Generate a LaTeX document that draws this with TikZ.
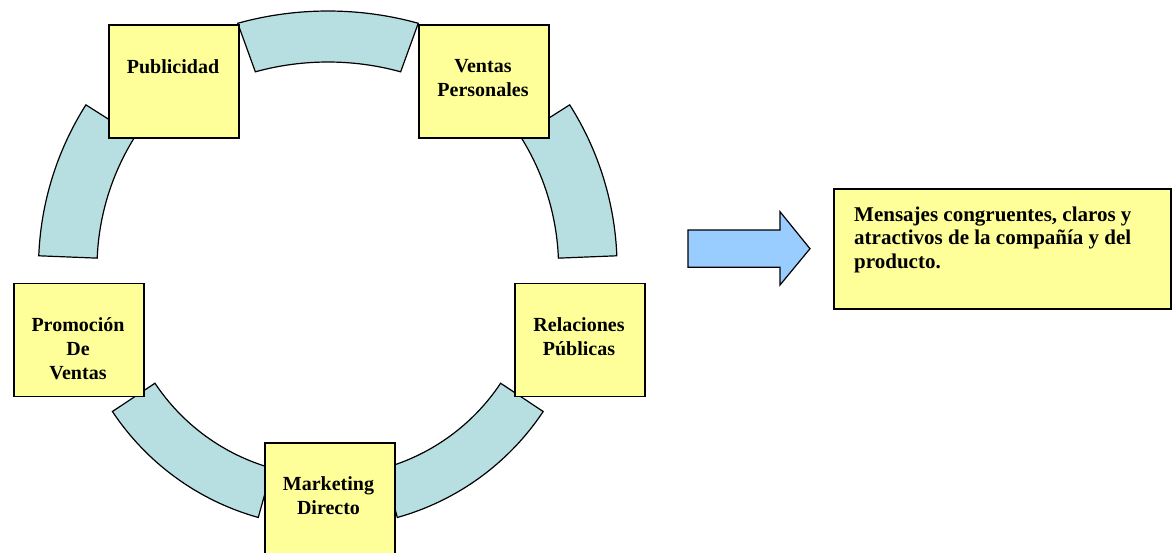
\documentclass[tikz,border=0pt]{standalone}
\usepackage{fontspec}
\setmainfont{Liberation Serif}
\usetikzlibrary{calc}
\definecolor{boxyellow}{HTML}{FFFF99}
\definecolor{ringblue}{HTML}{B7DEE0}
\definecolor{arrowblue}{HTML}{99CCFF}
% #1 centre, #2 start angle, #3 end angle, #4/#5 outer radii, #6/#7 inner radii
\newcommand\ringseg[7]{%
  \draw[segsty] ($#1+(#2:#4 and #5)$)
    arc[start angle=#2,end angle=#3,x radius=#4,y radius=#5]
    -- ($#1+(#3:#6 and #7)$)
    arc[start angle=#3,end angle=#2,x radius=#6,y radius=#7] -- cycle;}
\begin{document}
\begin{tikzpicture}[x=1pt,y=1pt,
  segsty/.style={draw=black,line width=1.2pt,fill=ringblue,line join=miter},
  cbox/.style={draw=black,line width=1.6pt,fill=boxyellow,minimum width=130pt,
    minimum height=113pt,inner sep=0pt,anchor=north west},
  lbl/.style={anchor=base,inner sep=0pt,font=\fontsize{20}{24}\selectfont\bfseries},
  rbox/.style={draw=black,line width=1.6pt,fill=boxyellow,minimum width=337pt,
    minimum height=120pt,inner sep=0pt,anchor=north west},
  rlbl/.style={anchor=base west,inner sep=0pt,font=\fontsize{21}{23.5}\selectfont\bfseries},
  bigarrow/.style={draw=black,line width=1.2pt,fill=arrowblue,line join=miter}]
\clip (0,0) rectangle (1172,-552);
% ring segments
\ringseg{(328,-266)}{107.85}{72.15}{294.5}{255}{237}{204}
\ringseg{(343,-268)}{147.6}{177.7}{304.5}{304.5}{246}{246}
\ringseg{(312.6,-268)}{2.3}{32.4}{304.5}{304.5}{246}{246}
\ringseg{(327.8,-268.4)}{213.6}{254.4}{258.6}{258.6}{207.5}{207.5}
\ringseg{(327.8,-268.4)}{285.6}{326.4}{258.6}{258.6}{207.5}{207.5}
% boxes
\node[cbox] (pub) at (108,-24) {};
\node[cbox] (ven) at (418,-24) {};
\node[cbox] (pro) at (13,-282.5) {};
\node[cbox] (rel) at (514,-282.5) {};
\node[cbox] (mar) at (264,-442) {};
\node[lbl] (pubt) at (173,-73.5) {\parbox[t]{130pt}{\centering Publicidad}};
\node[lbl] (vent) at (483,-72.5) {\parbox[t]{130pt}{\centering Ventas\\Personales}};
\node[lbl] (prot) at (78,-331) {\parbox[t]{130pt}{\centering Promoción\\De\\Ventas}};
\node[lbl] (relt) at (579,-331) {\parbox[t]{130pt}{\centering Relaciones\\Públicas}};
\node[lbl] (mart) at (328.5,-490) {\parbox[t]{130pt}{\centering Marketing\\Directo}};
% arrow
\draw[bigarrow] (688,-230) -- (780,-230) -- (780,-211.7) -- (810,-248.7)
  -- (780,-285) -- (780,-267.3) -- (688,-267.3) -- cycle;
% result box
\node[rbox] (res) at (833,-188) {};
\node[rlbl] (rest) at (854,-221) {\parbox[t]{310pt}{\raggedright Mensajes congruentes, claros y\\atractivos de la compañía y del\\producto.}};
\end{tikzpicture}
\end{document}
